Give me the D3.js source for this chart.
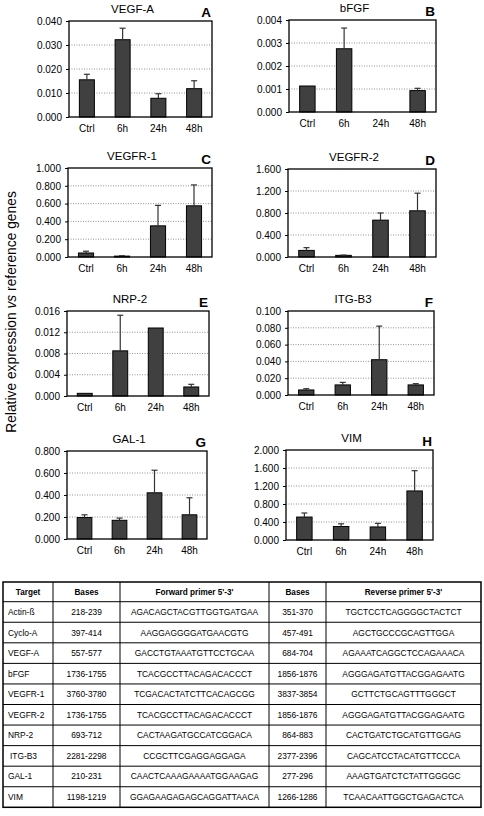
<!DOCTYPE html>
<html><head><meta charset="utf-8">
<script src="https://cdn.jsdelivr.net/npm/d3@7"></script>
<style>html,body{margin:0;padding:0;background:#fff;} svg{display:block;font-family:"Liberation Sans",Arial,Helvetica,sans-serif;}</style>
</head><body>
<svg id="c" width="484" height="816"></svg>
<script>
// ---------- DATA ----------
const categories = ["Ctrl", "6h", "24h", "48h"];
const genes = ["VEGF-A", "bFGF", "VEGFR-1", "VEGFR-2", "NRP-2", "ITG-B3", "GAL-1", "VIM"];
const panelLetters = ["A", "B", "C", "D", "E", "F", "G", "H"];

const vegfA = [0.0155, 0.0322, 0.0078, 0.0118];
const vegfAErr = [0.0023, 0.0048, 0.0019, 0.0033];
const bfgf = [0.00113, 0.00275, 0, 0.00093];
const bfgfErr = [null, 0.0009, null, 0.0001];
const vegfr1 = [0.045, 0.01, 0.35, 0.575];
const vegfr1Err = [0.02, 0.004, 0.23, 0.235];
const vegfr2 = [0.12, 0.03, 0.67, 0.84];
const vegfr2Err = [0.05, 0.005, 0.13, 0.32];
const nrp2 = [0.0005, 0.0085, 0.0128, 0.0017];
const nrp2Err = [null, 0.0067, null, 0.0005];
const itgb3 = [0.006, 0.012, 0.042, 0.012];
const itgb3Err = [0.0015, 0.003, 0.04, 0.0015];
const gal1 = [0.195, 0.17, 0.42, 0.22];
const gal1Err = [0.025, 0.02, 0.205, 0.155];
const vim = [0.51, 0.30, 0.29, 1.09];
const vimErr = [0.09, 0.06, 0.08, 0.45];

const yMaxValues = [0.04, 0.004, 1.0, 1.6, 0.016, 0.1, 0.8, 2.0];
const yTickSteps = [0.01, 0.001, 0.2, 0.4, 0.004, 0.02, 0.2, 0.4];

const tableHeaders = ["Target", "Bases", "Forward primer 5'-3'", "Bases", "Reverse primer 5'-3'"];
const tableTargets = ["Actin-ß", "Cyclo-A", "VEGF-A", "bFGF", "VEGFR-1", "VEGFR-2", "NRP-2", "ITG-B3", "GAL-1", "VIM"];
const fwdBases = ["218-239", "397-414", "557-577", "1736-1755", "3760-3780", "1736-1755", "693-712", "2281-2298", "210-231", "1198-1219"];
const fwdPrimers = ["AGACAGCTACGTTGGTGATGAA", "AAGGAGGGGATGAACGTG", "GACCTGTAAATGTTCCTGCAA", "TCACGCCTTACAGACACCCT", "TCGACACTATCTTCACAGCGG", "TCACGCCTTACAGACACCCT", "CACTAAGATGCCATCGGACA", "CCGCTTCGAGGAGGAGA", "CAACTCAAAGAAAATGGAAGAG", "GGAGAAGAGAGCAGGATTAACA"];
const revBases = ["351-370", "457-491", "684-704", "1856-1876", "3837-3854", "1856-1876", "864-883", "2377-2396", "277-296", "1266-1286"];
const revPrimers = ["TGCTCCTCAGGGGCTACTCT", "AGCTGCCCGCAGTTGGA", "AGAAATCAGGCTCCAGAAACA", "AGGGAGATGTTACGGAGAATG", "GCTTCTGCAGTTTGGGCT", "AGGGAGATGTTACGGAGAATG", "CACTGATCTGCATGTTGGAG", "CAGCATCCTACATGTTCCCA", "AAAGTGATCTCTATTGGGGC", "TCAACAATTGGCTGAGACTCA"];

const seriesValues = [vegfA, bfgf, vegfr1, vegfr2, nrp2, itgb3, gal1, vim];
const seriesErrors = [vegfAErr, bfgfErr, vegfr1Err, vegfr2Err, nrp2Err, itgb3Err, gal1Err, vimErr];

// ---------- LAYOUT ----------
const boxes = [
  [69, 21, 212, 117], [289, 20, 436, 112],
  [68, 168, 212, 257], [288, 169, 436, 257],
  [67, 311, 209, 396], [288, 311, 434, 395],
  [67, 451, 207, 539], [286, 450, 433, 540]
];

const svg = d3.select("#c");

genes.forEach((g, i) => {
  const [x0, y0, x1, y1] = boxes[i];
  const vals = seriesValues[i], errs = seriesErrors[i];
  const x = d3.scaleBand().domain(categories).range([x0, x1]).paddingInner(0.58).paddingOuter(0.29);
  const y = d3.scaleLinear().domain([0, yMaxValues[i]]).range([y1, y0]);
  const ticks = d3.range(0, Math.round(yMaxValues[i] / yTickSteps[i]) + 1).map(k => k * yTickSteps[i]);
  const gp = svg.append("g");

  gp.selectAll("line.grid").data(ticks.slice(1, -1)).join("line")
    .attr("x1", x0).attr("x2", x1).attr("y1", d => y(d)).attr("y2", d => y(d))
    .attr("stroke", "#777").attr("stroke-width", 0.8).attr("stroke-dasharray", "1,1.5");

  gp.selectAll("rect.bar").data(categories.map((c, k) => ({ c, v: vals[k], e: errs[k] })).filter(d => d.v > 0))
    .join("rect")
    .attr("x", d => x(d.c)).attr("width", x.bandwidth())
    .attr("y", d => y(d.v)).attr("height", d => y(0) - y(d.v))
    .attr("fill", "#404040").attr("stroke", "#000").attr("stroke-width", 1);

  const eb = categories.map((c, k) => ({ c, v: vals[k], e: errs[k] })).filter(d => d.e != null && d.v > 0);
  gp.selectAll("line.err").data(eb).join("line")
    .attr("x1", d => x(d.c) + x.bandwidth() / 2).attr("x2", d => x(d.c) + x.bandwidth() / 2)
    .attr("y1", d => y(d.v)).attr("y2", d => y(d.v + d.e))
    .attr("stroke", "#333").attr("stroke-width", 1.2);
  gp.selectAll("line.cap").data(eb).join("line")
    .attr("x1", d => x(d.c) + x.bandwidth() / 2 - 3).attr("x2", d => x(d.c) + x.bandwidth() / 2 + 3)
    .attr("y1", d => y(d.v + d.e)).attr("y2", d => y(d.v + d.e))
    .attr("stroke", "#333").attr("stroke-width", 1.2);

  gp.append("rect").attr("x", x0).attr("y", y0).attr("width", x1 - x0).attr("height", y1 - y0)
    .attr("fill", "none").attr("stroke", "#000").attr("stroke-width", 1.3);

  const ya = gp.append("g").attr("transform", `translate(${x0},0)`)
    .call(d3.axisLeft(y).tickValues(ticks).tickSize(3).tickPadding(4).tickFormat(d3.format(".3f")));
  ya.select(".domain").remove();
  ya.selectAll("text").attr("font-size", 10).attr("font-family", "Liberation Sans, Arial, sans-serif").attr("fill", "#000");
  ya.selectAll("line").attr("stroke", "#000");

  const xa = gp.append("g").attr("transform", `translate(0,${y1})`)
    .call(d3.axisBottom(x).tickSize(0).tickPadding(8));
  xa.select(".domain").remove();
  xa.selectAll("text").attr("font-size", 10).attr("font-family", "Liberation Sans, Arial, sans-serif").attr("fill", "#000");

  gp.append("text").attr("x", (x0 + x1) / 2 - 8).attr("y", y0 - 8).attr("text-anchor", "middle")
    .attr("font-size", 11.5).text(g);
  gp.append("text").attr("x", x1 - 1).attr("y", y0 - 4).attr("text-anchor", "end")
    .attr("font-size", 13.5).attr("font-weight", "bold").text(panelLetters[i]);
});

const yl = svg.append("text").attr("transform", "translate(16,312) rotate(-90)")
  .attr("text-anchor", "middle").attr("font-size", 13.8);
yl.append("tspan").text("Relative expression ");
yl.append("tspan").attr("font-style", "italic").text("vs");
yl.append("tspan").text(" reference genes");

// ---------- TABLE ----------
const colX = [3, 53, 120, 269, 326, 481];
const tTop = 582, hdrH = 19.7, rowH = 20.56;
const nRows = tableTargets.length;
const tBottom = tTop + hdrH + rowH * nRows;
const tg = svg.append("g");
const rowYs = d3.range(nRows + 1).map(k => tTop + hdrH + k * rowH);
tg.selectAll("line.h").data(rowYs.slice(0, -1)).join("line")
  .attr("x1", colX[0]).attr("x2", colX[5]).attr("y1", d => d).attr("y2", d => d)
  .attr("stroke", "#000").attr("stroke-width", 1);
tg.selectAll("line.v").data(colX.slice(1, -1)).join("line")
  .attr("x1", d => d).attr("x2", d => d).attr("y1", tTop).attr("y2", tBottom)
  .attr("stroke", "#000").attr("stroke-width", 1);
tg.append("rect").attr("x", colX[0]).attr("y", tTop).attr("width", colX[5] - colX[0]).attr("height", tBottom - tTop)
  .attr("fill", "none").attr("stroke", "#000").attr("stroke-width", 1.5);

const colCenter = k => (colX[k] + colX[k + 1]) / 2;
tg.selectAll("text.hdr").data(tableHeaders).join("text")
  .attr("x", (d, k) => colCenter(k)).attr("y", tTop + hdrH / 2 + 3)
  .attr("text-anchor", "middle").attr("font-size", 8.2).attr("font-weight", "bold").text(d => d);

const cols = [tableTargets, fwdBases, fwdPrimers, revBases, revPrimers];
cols.forEach((arr, k) => {
  tg.selectAll(null).data(arr).join("text")
    .attr("x", (d, r) => k === 0 ? colX[0] + 5 + (r === 7 ? 2 : 0) : colCenter(k))
    .attr("y", (d, r) => tTop + hdrH + r * rowH + rowH / 2 + 3)
    .attr("text-anchor", k === 0 ? "start" : "middle")
    .attr("font-size", 8.4).text(d => d);
});
</script>
</body></html>
